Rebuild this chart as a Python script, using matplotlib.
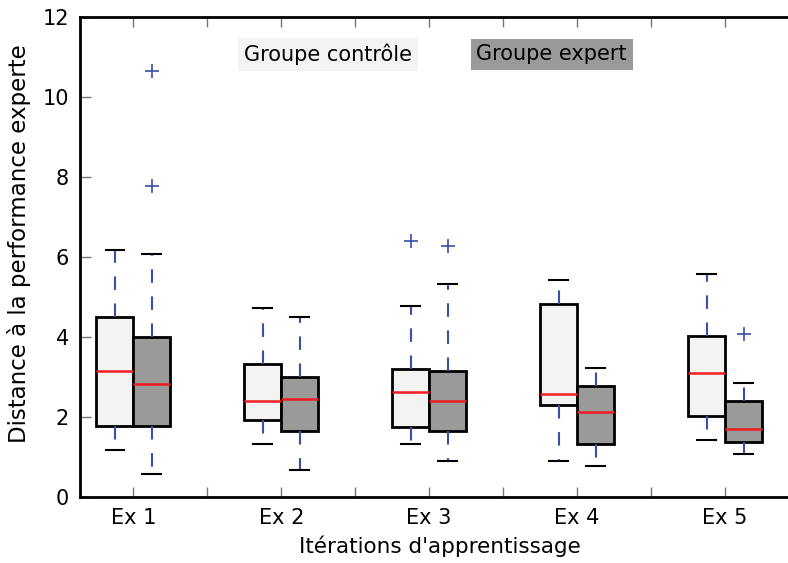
import matplotlib
matplotlib.use("Agg")
import matplotlib.pyplot as plt

# Values (one entry per exercise)
exercises = ["Ex 1", "Ex 2", "Ex 3", "Ex 4", "Ex 5"]

ctrl_whislo = [1.17, 1.33, 1.33, 0.90, 1.44]
ctrl_q1 = [1.78, 1.92, 1.76, 2.30, 2.03]
ctrl_med = [3.16, 2.41, 2.63, 2.58, 3.11]
ctrl_q3 = [4.51, 3.32, 3.21, 4.83, 4.02]
ctrl_whishi = [6.18, 4.72, 4.78, 5.43, 5.58]
ctrl_fliers = [[], [], [6.39], [], []]

exp_whislo = [0.58, 0.68, 0.90, 0.79, 1.07]
exp_q1 = [1.78, 1.65, 1.66, 1.33, 1.39]
exp_med = [2.83, 2.46, 2.41, 2.13, 1.71]
exp_q3 = [4.01, 2.99, 3.15, 2.78, 2.40]
exp_whishi = [6.07, 4.51, 5.32, 3.22, 2.84]
exp_fliers = [[10.64, 7.78], [], [6.28], [], [4.08]]


def make_stats(lo, q1, med, q3, hi, fl):
    stats = []
    for i in range(len(med)):
        stats.append({"whislo": lo[i], "q1": q1[i], "med": med[i],
                      "q3": q3[i], "whishi": hi[i], "fliers": fl[i]})
    return stats


ctrl_stats = make_stats(ctrl_whislo, ctrl_q1, ctrl_med, ctrl_q3, ctrl_whishi, ctrl_fliers)
exp_stats = make_stats(exp_whislo, exp_q1, exp_med, exp_q3, exp_whishi, exp_fliers)

centers = [1, 3, 5, 7, 9]

fig = plt.figure(figsize=(7.88, 5.63), dpi=100)
ax = fig.add_axes([0.1015, 0.117, 0.9125, 0.853])


def draw(stats, pos, face):
    ax.bxp(stats, positions=pos, widths=0.5, patch_artist=True,
           boxprops=dict(facecolor=face, edgecolor="black", linewidth=2),
           whiskerprops=dict(color="#3a4fa8", linestyle=(0, (6.5, 6.5)), linewidth=1.5),
           capprops=dict(color="black", linewidth=1.5),
           medianprops=dict(color="#ee1c24", linewidth=1.8),
           flierprops=dict(marker="+", markeredgecolor="#3a4fa8", markersize=10,
                           markeredgewidth=1.2, linestyle="none"),
           manage_ticks=False)


draw(ctrl_stats, [c - 0.25 for c in centers], "#f3f3f1")
draw(exp_stats, [c + 0.25 for c in centers], "#9a9a98")

ax.set_xlim(0.28, 10.0)
ax.set_ylim(0, 12)
ax.set_yticks(range(0, 13, 2))
ax.set_xticks(range(1, 10))
xlabels = []
for i in range(1, 10):
    xlabels.append(exercises[(i - 1) // 2] if i % 2 == 1 else "")
ax.set_xticklabels(xlabels)

ax.tick_params(axis="x", direction="in", top=True, bottom=True, length=7,
               width=1, color="#777777", labelsize=15, pad=8)
ax.tick_params(axis="y", direction="in", left=True, right=False, length=8,
               width=1, color="#777777", labelsize=15, pad=8)
for s in ax.spines.values():
    s.set_linewidth(2)
ax.spines["right"].set_visible(False)

ax.set_xlabel("Itérations d'apprentissage", fontsize=15.5, labelpad=5)
ax.set_ylabel("Distance à la performance experte", fontsize=16.5, labelpad=5)
ax.yaxis.set_label_coords(-0.068, 0.528)

ax.text(0.345, 0.922, "Groupe contrôle", transform=ax.transAxes, fontsize=15,
        ha="center", va="center",
        bbox=dict(facecolor="#f3f3f1", edgecolor="none", pad=4))
ax.text(0.656, 0.922, "Groupe expert", transform=ax.transAxes, fontsize=15,
        ha="center", va="center",
        bbox=dict(facecolor="#9a9a98", edgecolor="none", pad=4))

plt.savefig("out.png", dpi=100)
